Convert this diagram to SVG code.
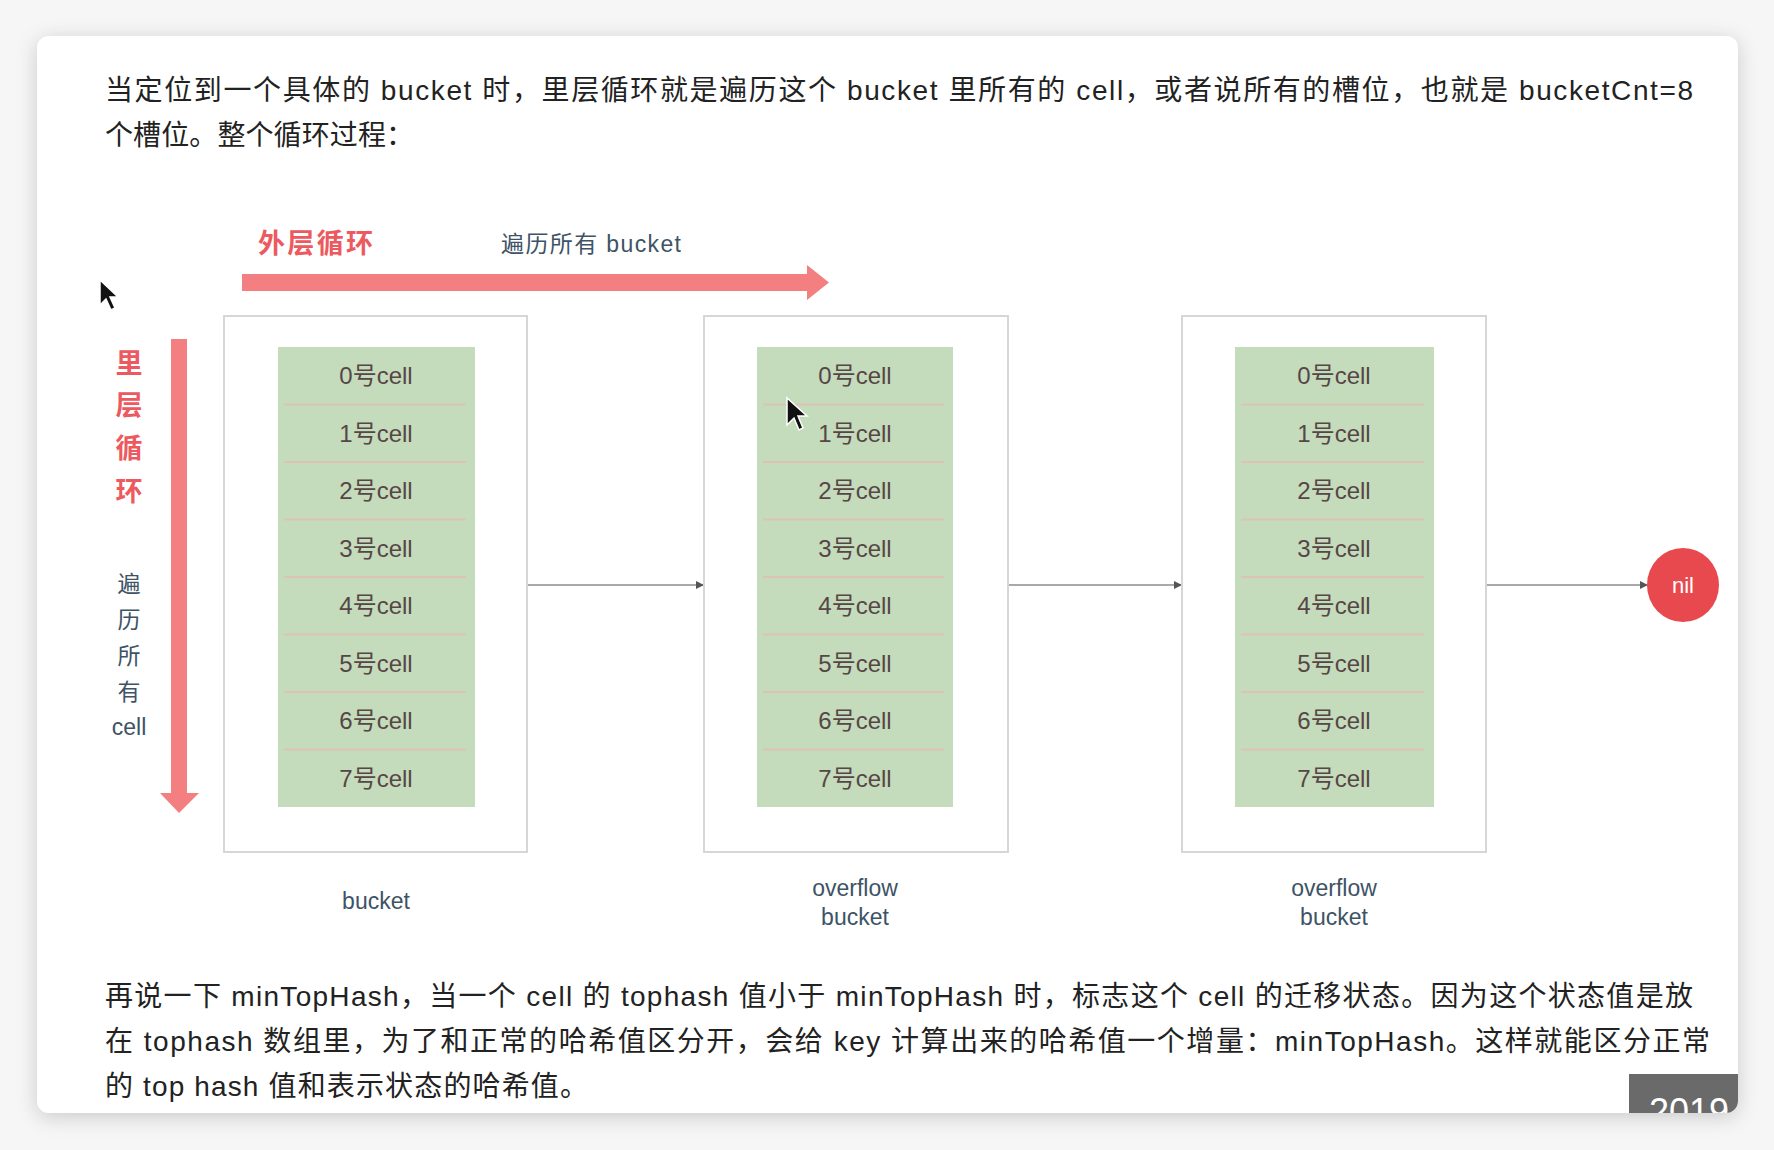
<svg xmlns="http://www.w3.org/2000/svg" width="1774" height="1150" viewBox="0 0 1774 1150">
<defs>
<style>
.body{font-family:"Liberation Sans","Noto Sans CJK SC",sans-serif;font-size:28px;fill:#222222}
.red{font-family:"Liberation Sans","Noto Sans CJK SC",sans-serif;font-size:27px;fill:#ec5a5f;font-weight:bold}
.slate{font-family:"Liberation Sans","Noto Sans CJK SC",sans-serif;font-size:23px;fill:#3e5366}
.cell{font-family:"Liberation Sans","Noto Sans CJK SC",sans-serif;font-size:24px;fill:#574646;text-anchor:middle}
.box{fill:#ffffff;stroke:#d6d6d6;stroke-width:2}
.green{fill:#c4dbbc}
.div{stroke:#dcc3b8;stroke-width:2}
.conn{stroke:#a9a9a9;stroke-width:2;fill:none}
.big{fill:#f47f80}
</style>
<marker id="ah" markerWidth="8" markerHeight="8" refX="7" refY="4" orient="auto" markerUnits="userSpaceOnUse">
<path d="M0,0 L8,4 L0,8 z" fill="#555"/>
</marker>
<filter id="sh" x="-5%" y="-5%" width="110%" height="110%">
<feDropShadow dx="0" dy="4" stdDeviation="10" flood-color="#000" flood-opacity="0.18"/>
</filter>
<clipPath id="cardclip"><rect x="37" y="36" width="1701" height="1077" rx="12"/></clipPath>
</defs>
<rect x="0" y="0" width="1774" height="1150" fill="#f6f6f6"/>
<rect x="37" y="36" width="1701" height="1077" rx="12" fill="#ffffff" filter="url(#sh)"/>

<g id="intro-text">
<text class="body" x="105" y="100" textLength="1588" lengthAdjust="spacing">当定位到一个具体的 bucket 时，里层循环就是遍历这个 bucket 里所有的 cell，或者说所有的槽位，也就是 bucketCnt=8</text>
<text class="body" x="105" y="145" textLength="309" lengthAdjust="spacing">个槽位。整个循环过程：</text>
</g>

<g id="outer-loop">
<text class="red" x="258" y="253" textLength="115" lengthAdjust="spacing">外层循环</text>
<text class="slate" x="501" y="252" textLength="180" lengthAdjust="spacing">遍历所有 bucket</text>
<polygon class="big" points="242,274 807,274 807,265 829,282.5 807,300 807,291 242,291"/>
</g>

<g id="inner-loop">
<g class="red" text-anchor="middle" font-size="28">
<text x="129" y="373">里</text>
<text x="129" y="415">层</text>
<text x="129" y="458">循</text>
<text x="129" y="501">环</text>
</g>
<g class="slate" text-anchor="middle">
<text x="129" y="592">遍</text>
<text x="129" y="628">历</text>
<text x="129" y="664">所</text>
<text x="129" y="700">有</text>
<text x="129" y="735">cell</text>
</g>
<polygon class="big" points="171,339 187,339 187,793 199,793 179,813 160,793 171,793"/>
</g>

<g id="connectors">
<line class="conn" x1="527" y1="585" x2="703" y2="585" marker-end="url(#ah)"/>
<line class="conn" x1="1008" y1="585" x2="1181" y2="585" marker-end="url(#ah)"/>
<line class="conn" x1="1486" y1="585" x2="1647" y2="585" marker-end="url(#ah)"/>
</g>

<g id="bucket">
<rect class="box" x="224" y="316" width="303" height="536"/>
<rect class="green" x="278" y="347" width="197" height="460"/>
<g class="div">
<line x1="284" y1="404.5" x2="466" y2="404.5"/><line x1="284" y1="462" x2="466" y2="462"/><line x1="284" y1="519.5" x2="466" y2="519.5"/><line x1="284" y1="577" x2="466" y2="577"/><line x1="284" y1="634.5" x2="466" y2="634.5"/><line x1="284" y1="692" x2="466" y2="692"/><line x1="284" y1="749.5" x2="466" y2="749.5"/>
</g>
<g class="cell">
<text x="376" y="384">0号cell</text><text x="376" y="442">1号cell</text><text x="376" y="499">2号cell</text><text x="376" y="557">3号cell</text><text x="376" y="614">4号cell</text><text x="376" y="672">5号cell</text><text x="376" y="729">6号cell</text><text x="376" y="787">7号cell</text>
</g>
<text class="slate" x="376" y="909" text-anchor="middle">bucket</text>
</g>

<g id="overflow-bucket-1">
<rect class="box" x="704" y="316" width="304" height="536"/>
<rect class="green" x="757" y="347" width="196" height="460"/>
<g class="div">
<line x1="763" y1="404.5" x2="944" y2="404.5"/><line x1="763" y1="462" x2="944" y2="462"/><line x1="763" y1="519.5" x2="944" y2="519.5"/><line x1="763" y1="577" x2="944" y2="577"/><line x1="763" y1="634.5" x2="944" y2="634.5"/><line x1="763" y1="692" x2="944" y2="692"/><line x1="763" y1="749.5" x2="944" y2="749.5"/>
</g>
<g class="cell">
<text x="855" y="384">0号cell</text><text x="855" y="442">1号cell</text><text x="855" y="499">2号cell</text><text x="855" y="557">3号cell</text><text x="855" y="614">4号cell</text><text x="855" y="672">5号cell</text><text x="855" y="729">6号cell</text><text x="855" y="787">7号cell</text>
</g>
<text class="slate" x="855" y="896" text-anchor="middle">overflow</text>
<text class="slate" x="855" y="925" text-anchor="middle">bucket</text>
</g>

<g id="overflow-bucket-2">
<rect class="box" x="1182" y="316" width="304" height="536"/>
<rect class="green" x="1235" y="347" width="199" height="460"/>
<g class="div">
<line x1="1241" y1="404.5" x2="1424" y2="404.5"/><line x1="1241" y1="462" x2="1424" y2="462"/><line x1="1241" y1="519.5" x2="1424" y2="519.5"/><line x1="1241" y1="577" x2="1424" y2="577"/><line x1="1241" y1="634.5" x2="1424" y2="634.5"/><line x1="1241" y1="692" x2="1424" y2="692"/><line x1="1241" y1="749.5" x2="1424" y2="749.5"/>
</g>
<g class="cell">
<text x="1334" y="384">0号cell</text><text x="1334" y="442">1号cell</text><text x="1334" y="499">2号cell</text><text x="1334" y="557">3号cell</text><text x="1334" y="614">4号cell</text><text x="1334" y="672">5号cell</text><text x="1334" y="729">6号cell</text><text x="1334" y="787">7号cell</text>
</g>
<text class="slate" x="1334" y="896" text-anchor="middle">overflow</text>
<text class="slate" x="1334" y="925" text-anchor="middle">bucket</text>
</g>

<g id="nil">
<ellipse cx="1683" cy="585" rx="36" ry="37" fill="#e8494e"/>
<text x="1683" y="593" text-anchor="middle" font-family="Liberation Sans, sans-serif" font-size="22" fill="#ffffff">nil</text>
</g>

<g id="outro-text">
<text class="body" x="105" y="1006" textLength="1588" lengthAdjust="spacing">再说一下 minTopHash，当一个 cell 的 tophash 值小于 minTopHash 时，标志这个 cell 的迁移状态。因为这个状态值是放</text>
<text class="body" x="105" y="1051" textLength="1605" lengthAdjust="spacing">在 tophash 数组里，为了和正常的哈希值区分开，会给 key 计算出来的哈希值一个增量：minTopHash。这样就能区分正常</text>
<text class="body" x="105" y="1096" textLength="483" lengthAdjust="spacing">的 top hash 值和表示状态的哈希值。</text>
</g>

<g id="badge" clip-path="url(#cardclip)">
<rect x="1629" y="1074" width="110" height="40" fill="#6a6a6a"/>
<text x="1649" y="1124" font-family="Liberation Sans, sans-serif" font-size="36" fill="#ffffff">2019</text>
</g>

<g id="cursors">
<path d="M100,280 L100,305 L106,299 L111,310 L115,308 L110,297 L118,297 Z" fill="#111" stroke="#fff" stroke-width="1.5"/>
<path d="M787,398 L787,425 L794,418 L799,430 L803,428 L798,416 L807,416 Z" fill="#111" stroke="#fff" stroke-width="1.5"/>
</g>
</svg>
